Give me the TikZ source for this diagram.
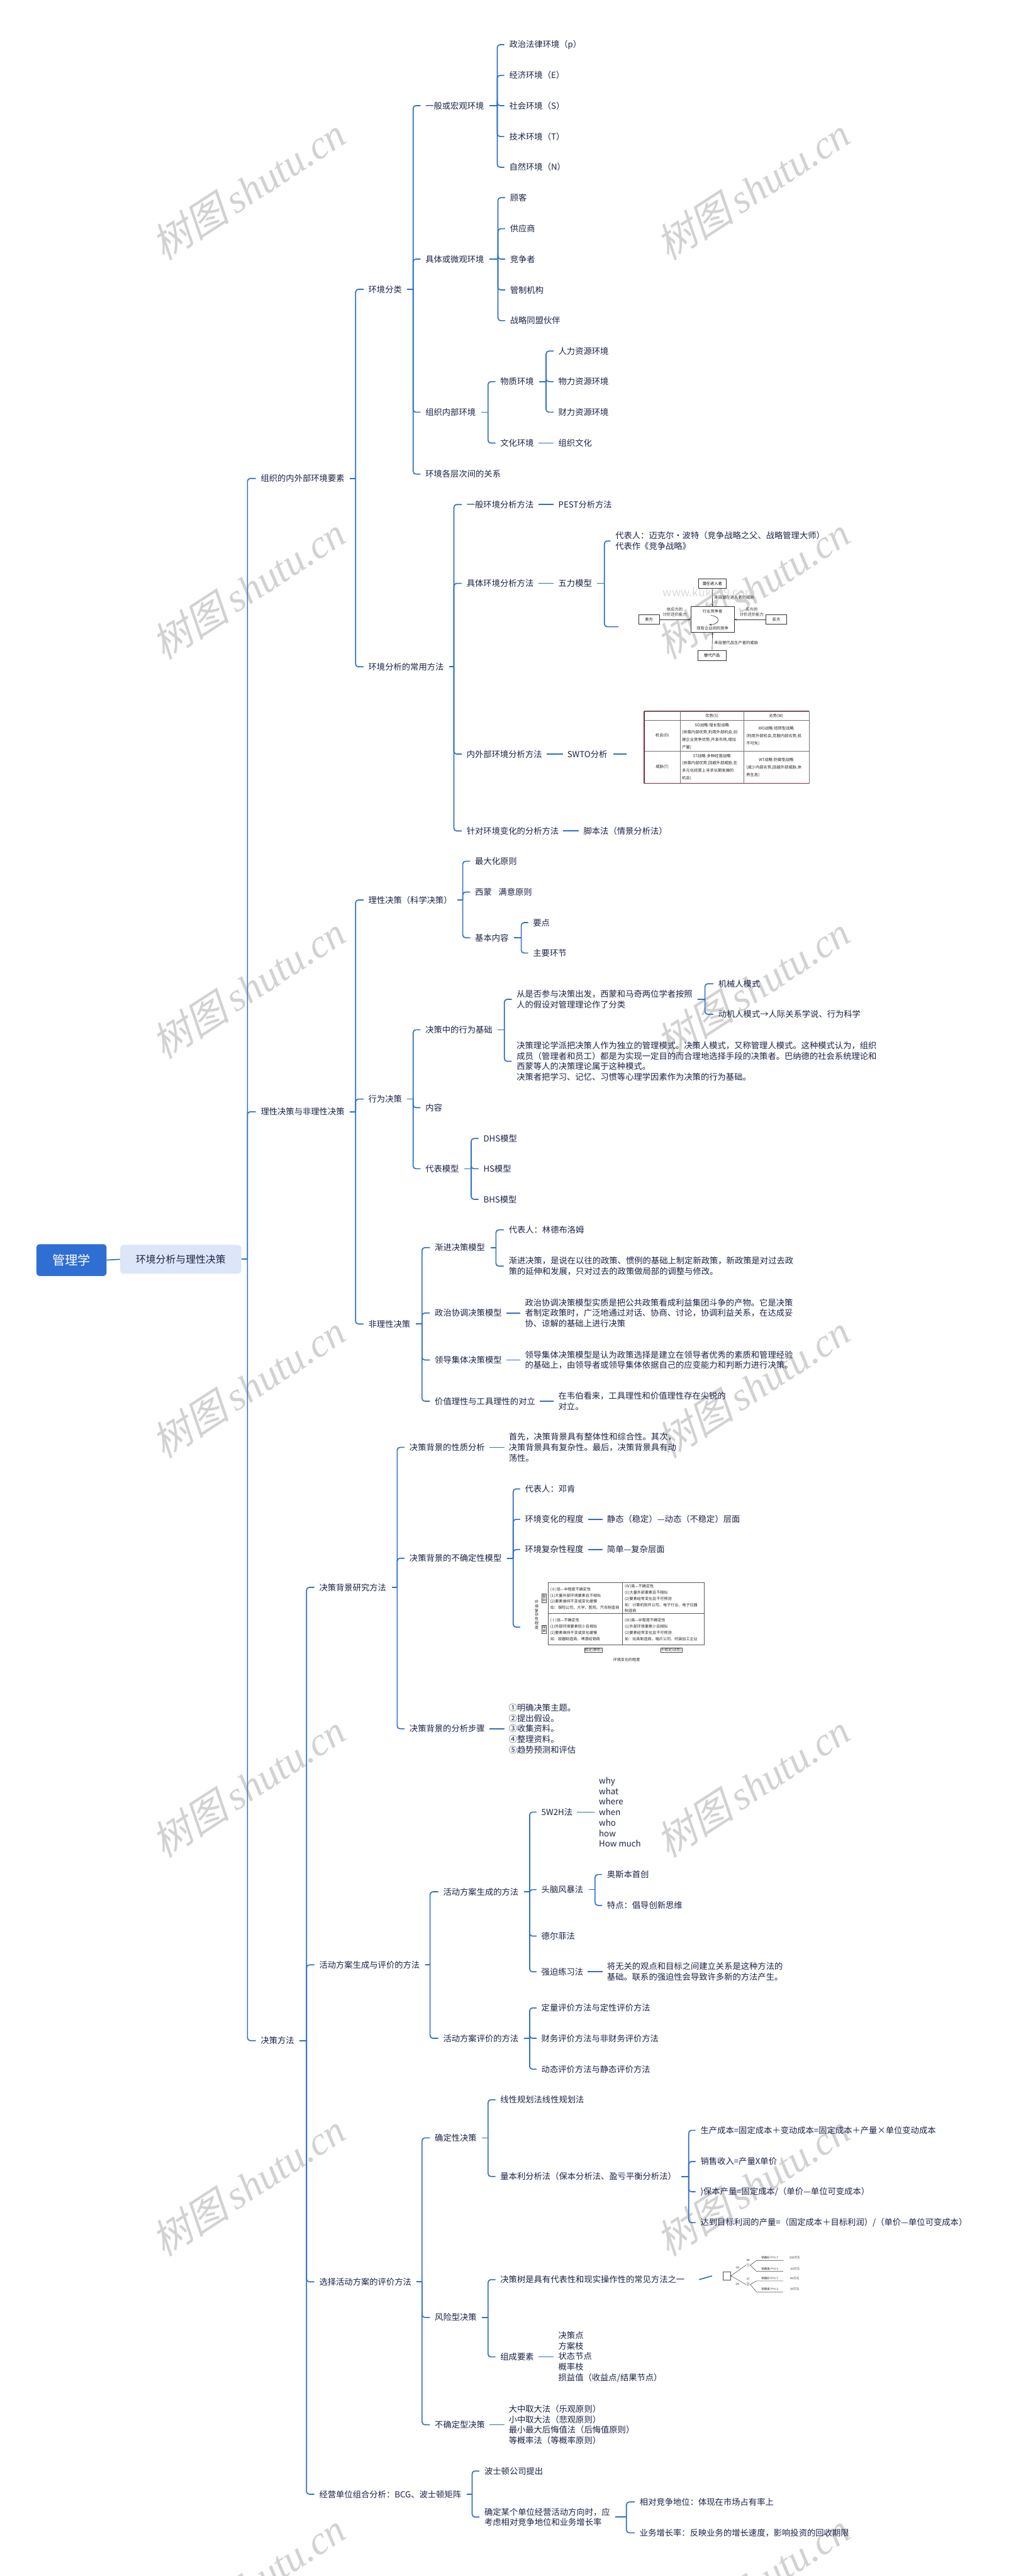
\documentclass[tikz,border=0pt]{standalone}
\usepackage{fontspec}
\setmainfont{Noto Sans CJK SC}
\newfontfamily\wmcjk[FakeSlant=0.25]{Noto Sans CJK SC}
\newfontfamily\wmlat{Liberation Serif}
\usetikzlibrary{arrows.meta}
\definecolor{lc}{HTML}{2E6FC4}
\definecolor{tc}{HTML}{1B2348}
\definecolor{rootc}{HTML}{2F6ED3}
\definecolor{l1c}{HTML}{DCE6F8}
\definecolor{wmc}{HTML}{D2D2D2}
\definecolor{swred}{HTML}{7A2B3A}
\tikzset{
  t/.style={anchor=west, inner xsep=0pt, inner ysep=1pt, text=tc, font=\fontsize{10.5}{13.2}\selectfont, align=left},
  ln/.style={draw=lc, line width=1.3pt, rounded corners=3.5pt},
  wmk/.style={rotate=33, text=wmc, inner sep=0pt},
  ffb/.style={draw=black!80, line width=0.6pt, fill=white, inner sep=0.6pt, font=\fontsize{5}{6}\selectfont},
  fft/.style={inner sep=0.3pt, text=black!85, font=\fontsize{5}{6}\selectfont, align=center},
  sw/.style={inner sep=0pt, text=black!85, font=\fontsize{5}{9.3}\selectfont},
  swc/.style={inner sep=0pt, text=black!85, font=\fontsize{5}{9.3}\selectfont, text width=75pt, align=left},
  dm/.style={anchor=west, inner sep=0pt, text=black!85, font=\fontsize{4.8}{7.75}\selectfont, align=left},
  dmb/.style={draw=black!70, line width=0.4pt, inner sep=0.6pt, text=black!85, font=\fontsize{4.5}{5}\selectfont, align=center},
  dtt/.style={inner sep=0pt, text=black!85, font=\fontsize{3.6}{4}\selectfont},
  arr/.style={-{Stealth[length=3pt,width=2.4pt]}, draw=black!80, line width=0.5pt}
}
\newcommand\fanout[3]{%
  \draw[ln] ([xshift=6.5pt]#1.east) -- (#1.east -| #2,0);
  \foreach \ch in {#3}{\draw[ln] (#1.east -| #2,0) |- ([xshift=-6pt]\ch.west);}%
}
\newcommand\link[2]{\draw[ln] ([xshift=5.5pt]#1.east) -- ([xshift=-5.5pt]#2.west);}
\begin{document}
\begin{tikzpicture}[x=2.0612pt,y=-2.0612pt]
\useasboundingbox (0,0) rectangle (621,1568);
\fill[white] (0,0) rectangle (621,1568);
% watermarks
\foreach \yy in {115,358,601,844,1087,1330,1573}{
  \node[wmk] (wl-\yy) at (151,\yy) {\fontsize{50}{50}\selectfont\wmcjk 树图\,\wmlat\itshape shutu.cn};
  \node[wmk] (wr-\yy) at (458,\yy) {\fontsize{50}{50}\selectfont\wmcjk 树图\,\wmlat\itshape shutu.cn};
}
% root
\node[fill=rootc, rounded corners=4pt, minimum width=88pt, minimum height=40pt, text=white, font=\fontsize{16}{16}\selectfont, inner sep=0pt] (root) at (43.5,767) {管理学};
\node[fill=l1c, rounded corners=4pt, minimum width=152pt, minimum height=36pt, text=tc, font=\fontsize{12.5}{12.5}\selectfont, inner sep=0pt] (L1) at (110,766.5) {环境分析与理性决策};
\draw[ln] (root.east) -- (L1.west);
% level 1
\node[t] (a1) at (158.6,291.2) {组织的内外部环境要素};
\node[t] (a2) at (158.6,676.7) {理性决策与非理性决策};
\node[t] (a3) at (158.6,1242.1) {决策方法};
\draw[ln] (L1.east) -- (L1.east -| 150.6,0);
\foreach \ch in {a1,a2,a3}{\draw[ln] (L1.east -| 150.6,0) |- ([xshift=-6pt]\ch.west);}
% ===== a1
\node[t] (b1) at (224.1,176.1) {环境分类};
\node[t] (b2) at (224.1,405.9) {环境分析的常用方法};
\fanout{a1}{216.4}{b1,b2}
\node[t] (c1) at (258.8,64.3) {一般或宏观环境};
\node[t] (c2) at (258.8,157.7) {具体或微观环境};
\node[t] (c3) at (258.8,250.9) {组织内部环境};
\node[t] (c4) at (258.8,288.6) {环境各层次间的关系};
\fanout{b1}{251.4}{c1,c2,c3,c4}
\node[t] (d1) at (309.8,27.2) {政治法律环境（p）};
\node[t] (d2) at (309.8,45.9) {经济环境（E）};
\node[t] (d3) at (309.8,64.3) {社会环境（S）};
\node[t] (d4) at (309.8,83.1) {技术环境（T）};
\node[t] (d5) at (309.8,101.8) {自然环境（N）};
\fanout{c1}{302.6}{d1,d2,d3,d4,d5}
\node[t] (e1) at (310.3,120.3) {顾客};
\node[t] (e2) at (310.3,139.2) {供应商};
\node[t] (e3) at (310.3,157.7) {竞争者};
\node[t] (e4) at (310.3,176.5) {管制机构};
\node[t] (e5) at (310.3,195.2) {战略同盟伙伴};
\fanout{c2}{303.0}{e1,e2,e3,e4,e5}
\node[t] (f1) at (304.4,232.3) {物质环境};
\node[t] (f2) at (304.4,269.7) {文化环境};
\fanout{c3}{297.0}{f1,f2}
\node[t] (g1) at (339.7,213.7) {人力资源环境};
\node[t] (g2) at (339.7,232.3) {物力资源环境};
\node[t] (g3) at (339.7,250.9) {财力资源环境};
\fanout{f1}{332.3}{g1,g2,g3}
\node[t] (g4) at (339.7,269.7) {组织文化};
\link{f2}{g4}
% analysis methods
\node[t] (h1) at (283.9,307.1) {一般环境分析方法};
\node[t] (h2) at (283.9,355.1) {具体环境分析方法};
\node[t] (h3) at (283.9,459.0) {内外部环境分析方法};
\node[t] (h4) at (283.9,505.8) {针对环境变化的分析方法};
\fanout{b2}{276.2}{h1,h2,h3,h4}
\node[t] (h1a) at (339.7,307.1) {PEST分析方法};
\link{h1}{h1a}
\node[t] (h2a) at (339.7,355.1) {五力模型};
\link{h2}{h2a}
\node[t] (h3a) at (345.1,459.0) {SWTO分析};
\link{h3}{h3a}
\node[t] (h4a) at (355.0,505.8) {脚本法（情景分析法）};
\link{h4}{h4a}
\node[t] (porter) at (374.4,329.3) {代表人：迈克尔·波特（竞争战略之父、战略管理大师）\\代表作《竞争战略》};
\node[inner sep=0pt, minimum size=0pt] (ffimg) at (379.4,381.5) {};
\fanout{h2a}{367.8}{porter,ffimg}
% five forces picture
\node[text=black!14, inner sep=0pt, font=\fontsize{14}{14}\selectfont] (kuke) at (431.5,360.6) {www.kuke99.com};
\node[ffb, minimum width=35pt, minimum height=12.5pt] (ffpe) at (433.4,355.2) {潜在进入者};
\node[ffb, minimum width=54pt, minimum height=32pt] (ffc) at (433.6,377.1) {};
\node[fft] (ffc1) at (433.6,372.2) {行业竞争者};
\node[fft] (ffc2) at (433.6,382.6) {现有企业间的竞争};
\node[ffb, minimum width=26pt, minimum height=11.5pt] (ffs) at (394.9,377.1) {卖方};
\node[ffb, minimum width=26pt, minimum height=11.5pt] (ffb2) at (472.4,377.1) {买方};
\node[ffb, minimum width=35pt, minimum height=13pt] (ffsub) at (433.3,399.0) {替代产品};
\draw[arr] (ffpe.south) -- (ffc.north);
\draw[arr] (ffs.east) -- (ffc.west);
\draw[arr] (ffb2.west) -- (ffc.east);
\draw[arr] (ffsub.north) -- (ffc.south);
\coordinate (ffca) at (432.5,374.6);
\coordinate (ffcb) at (431.5,380.3);
\draw[arr] (ffca) .. controls (438.5,375) and (438.5,380) .. (ffcb);
\node[fft, anchor=west] (ffl1) at (434.4,363.6) {来自潜在进入者的威胁};
\node[fft] (ffl2) at (410.6,372.5) {供应方的\\讨价还价能力};
\node[fft] (ffl3) at (457.4,372.5) {买方的\\讨价还价能力};
\node[fft, anchor=west] (ffl4) at (434.4,391.4) {来自替代品生产者的威胁};
% SWOT table
\node[inner sep=0pt, minimum size=0pt] (swimg) at (392,459.0) {};
\draw[ln] ([xshift=7pt]h3a.east) -- ([xshift=-22pt]swimg.west);
\draw[black!55, line width=0.4pt] (392,432.9) rectangle (492.2,476.8);
\draw[black!55, line width=0.4pt] (414,432.9) -- (414,476.8) (452.4,432.9) -- (452.4,476.8) (392,438.4) -- (492.2,438.4) (392,457.3) -- (492.2,457.3);
\draw[swred, line width=0.9pt] (392,432.9) -- (492.2,432.9) (392,476.8) -- (492.2,476.8) (392,432.9) -- (392,476.8);
\node[sw] (sws) at (433.2,435.7) {优势(S)};
\node[sw] (sww) at (472.3,435.7) {劣势(W)};
\node[sw] (swo) at (403,447.8) {机会(O)};
\node[sw] (swt) at (403,467.0) {威胁(T)};
\node[swc] (swso) at (433.2,448.2) {\makebox[75pt][c]{SO战略:增长型战略}\\(依靠内部优势,利用外部机会,创\\建企业竞争优势,开发市场,增加\\产量)};
\node[swc] (swwo) at (472.3,448.1) {\makebox[75pt][c]{WO战略:扭转型战略}\\(利用外部机会,克服内部劣势,机\\不可失)};
\node[swc] (swst) at (433.2,466.9) {\makebox[75pt][c]{ST战略:多种经营战略}\\(依靠内部优势,回避外部威胁,在\\多元化经营上寻求长期发展的\\机会)};
\node[swc] (swwt) at (472.3,467.2) {\makebox[75pt][c]{WT战略:防御型战略}\\(减少内部劣势,回避外部威胁,休\\养生息)};
% ===== a2
\node[t] (i1) at (224.1,547.8) {理性决策（科学决策）};
\node[t] (i2) at (224.1,669.0) {行为决策};
\node[t] (i3) at (224.1,805.9) {非理性决策};
\fanout{a2}{216.4}{i1,i2,i3}
\node[t] (j1) at (289.0,524.2) {最大化原则};
\node[t] (j2) at (289.0,543.0) {西蒙\hspace{0.8em}满意原则};
\node[t] (j3) at (289.0,570.8) {基本内容};
\fanout{i1}{281.6}{j1,j2,j3}
\node[t] (j3a) at (324.3,561.6) {要点};
\node[t] (j3b) at (324.3,580.1) {主要环节};
\fanout{j3}{317.2}{j3a,j3b}
\node[t] (k1) at (258.8,626.8) {决策中的行为基础};
\node[t] (k2) at (258.8,674.2) {内容};
\node[t] (k3) at (258.8,711.4) {代表模型};
\fanout{i2}{251.4}{k1,k2,k3}
\node[t] (k1a) at (314.3,608.3) {从是否参与决策出发，西蒙和马奇两位学者按照\\人的假设对管理理论作了分类};
\node[t] (k1b) at (314.3,646.0) {决策理论学派把决策人作为独立的管理模式。决策人模式，又称管理人模式。这种模式认为，组织\\成员（管理者和员工）都是为实现一定目的而合理地选择手段的决策者。巴纳德的社会系统理论和\\西蒙等人的决策理论属于这种模式。\\决策者把学习、记忆、习惯等心理学因素作为决策的行为基础。};
\fanout{k1}{306.9}{k1a,k1b}
\node[t] (k1c) at (437.0,598.8) {机械人模式};
\node[t] (k1d) at (437.0,617.4) {动机人模式→人际关系学说、行为科学};
\fanout{k1a}{429.0}{k1c,k1d}
\node[t] (k3a) at (294.1,693.0) {DHS模型};
\node[t] (k3b) at (294.1,711.4) {HS模型};
\node[t] (k3c) at (294.1,730.0) {BHS模型};
\fanout{k3}{286.7}{k3a,k3b,k3c}
\node[t] (m1) at (264.5,759.4) {渐进决策模型};
\node[t] (m2) at (264.5,799.2) {政治协调决策模型};
\node[t] (m3) at (264.5,827.8) {领导集体决策模型};
\node[t] (m4) at (264.5,852.9) {价值理性与工具理性的对立};
\fanout{i3}{256.8}{m1,m2,m3,m4}
\node[t] (m1a) at (309.5,748.6) {代表人：林德布洛姆};
\node[t] (m1b) at (309.5,770.7) {渐进决策，是说在以往的政策、惯例的基础上制定新政策，新政策是对过去政\\策的延伸和发展，只对过去的政策做局部的调整与修改。};
\fanout{m1}{301.8}{m1a,m1b}
\node[t] (m2a) at (319.4,799.2) {政治协调决策模型实质是把公共政策看成利益集团斗争的产物。它是决策\\者制定政策时，广泛地通过对话、协商、讨论，协调利益关系，在达成妥\\协、谅解的基础上进行决策};
\link{m2}{m2a}
\node[t] (m3a) at (319.4,827.8) {领导集体决策模型是认为政策选择是建立在领导者优秀的素质和管理经验\\的基础上，由领导者或领导集体依据自己的应变能力和判断力进行决策。};
\link{m3}{m3a}
\node[t] (m4a) at (339.7,852.9) {在韦伯看来，工具理性和价值理性存在尖锐的\\对立。};
\link{m4}{m4a}
% ===== a3
\node[t] (n1) at (194.2,966.2) {决策背景研究方法};
\node[t] (n2) at (194.2,1196.0) {活动方案生成与评价的方法};
\node[t] (n3) at (194.2,1388.9) {选择活动方案的评价方法};
\node[t] (n4) at (194.2,1518.2) {经营单位组合分析：BCG、波士顿矩阵};
\fanout{a3}{186.5}{n1,n2,n3,n4}
\node[t] (p1) at (249.1,881.0) {决策背景的性质分析};
\node[t] (p2) at (249.1,948.5) {决策背景的不确定性模型};
\node[t] (p3) at (249.1,1052.3) {决策背景的分析步骤};
\fanout{n1}{241.7}{p1,p2,p3}
\node[t] (p1a) at (309.5,881.0) {首先，决策背景具有整体性和综合性。其次，\\决策背景具有复杂性。最后，决策背景具有动\\荡性。};
\link{p1}{p1a}
\node[t] (p3a) at (309.5,1052.3) {①明确决策主题。\\②提出假设。\\③收集资料。\\④整理资料。\\⑤趋势预测和评估};
\link{p3}{p3a}
\node[t] (q1) at (319.4,906.3) {代表人：邓肯};
\node[t] (q2) at (319.4,924.8) {环境变化的程度};
\node[t] (q3) at (319.4,943.2) {环境复杂性程度};
\node[inner sep=0pt, minimum size=0pt] (dfimg) at (319.5,990.4) {};
\fanout{p2}{312.3}{q1,q2,q3,dfimg}
\node[t] (q2a) at (369.3,924.8) {静态（稳定）—动态（不稳定）层面};
\link{q2}{q2a}
\node[t] (q3a) at (369.3,943.2) {简单—复杂层面};
\link{q3}{q3a}
% Daft model picture
\draw[black!65, line width=0.45pt] (333.7,963.1) rectangle (428.5,1001.3);
\draw[black!65, line width=0.45pt] (378.7,963.1) -- (378.7,1001.3) (333.7,982.2) -- (428.5,982.2);
\node[dm] (dtl) at (334.8,973.0) {(Ⅱ)低—中程度不确定性\\(1)大量外部环境要素且不相似\\(2)要素维持不变或变化缓慢\\如：保险公司、大学、医院、汽车制造商};
\node[dm] (dtr) at (380.1,973.1) {(Ⅳ)高—不确定性\\(1)大量外部要素且不相似\\(2)要素经常变化且不可预测\\如：计算机软件公司、电子行业、电子仪器\\制造商};
\node[dm] (dbl) at (334.8,991.9) {(Ⅰ)低—不确定性\\(1)外部环境要素较少且相似\\(2)要素维持不变或变化缓慢\\如：容器制造商、啤酒经销商};
\node[dm] (dbr) at (380.1,991.9) {(Ⅲ)高—中程度不确定性\\(1)外部环境要素少且相似\\(2)要素经常变化且不可预测\\如：玩具制造商、唱片公司、时装加工企业};
\node[inner sep=0pt, text=black!85, font=\fontsize{4.8}{5.4}\selectfont, align=center] (dvl) at (326.6,983.0) {环\\境\\复\\杂\\性\\程\\度};
\node[dmb] (dcx) at (331.1,972.8) {复\\杂};
\node[dmb] (dsp) at (331.1,991.7) {简\\单};
\node[dmb] (dst) at (361.0,1004.3) {稳定(静态)};
\node[dmb] (dun) at (408.4,1004.3) {不稳定(动态)};
\node[inner sep=0pt, text=black!85, font=\fontsize{4.8}{5}\selectfont] (dhl) at (381.3,1010.2) {环境变化的程度};
% activities
\node[t] (r1) at (269.6,1151.5) {活动方案生成的方法};
\node[t] (r2) at (269.6,1240.7) {活动方案评价的方法};
\fanout{n2}{261.7}{r1,r2}
\node[t] (s1) at (329.4,1103.0) {5W2H法};
\node[t] (s2) at (329.4,1150.2) {头脑风暴法};
\node[t] (s3) at (329.4,1178.5) {德尔菲法};
\node[t] (s4) at (329.4,1200.2) {强迫练习法};
\fanout{r1}{322.3}{s1,s2,s3,s4}
\node[t] (s1a) at (364.4,1103.0) {why\\what\\where\\when\\who\\how\\How much};
\link{s1}{s1a}
\node[t] (s2a) at (369.3,1141.0) {奥斯本首创};
\node[t] (s2b) at (369.3,1159.8) {特点：倡导创新思维};
\fanout{s2}{362.1}{s2a,s2b}
\node[t] (s4a) at (369.3,1200.2) {将无关的观点和目标之间建立关系是这种方法的\\基础。联系的强迫性会导致许多新的方法产生。};
\link{s4}{s4a}
\node[t] (u1) at (329.4,1222.2) {定量评价方法与定性评价方法};
\node[t] (u2) at (329.4,1240.7) {财务评价方法与非财务评价方法};
\node[t] (u3) at (329.4,1259.5) {动态评价方法与静态评价方法};
\fanout{r2}{322.3}{u1,u2,u3}
% choose
\node[t] (v1) at (264.5,1301.3) {确定性决策};
\node[t] (v2) at (264.5,1410.6) {风险型决策};
\node[t] (v3) at (264.5,1475.9) {不确定型决策};
\fanout{n3}{256.8}{v1,v2,v3}
\node[t] (w1) at (304.4,1278.1) {线性规划法线性规划法};
\node[t] (w2) at (304.4,1324.8) {量本利分析法（保本分析法、盈亏平衡分析法）};
\fanout{v1}{297.0}{w1,w2}
\node[t] (x1) at (426.2,1296.7) {生产成本=固定成本＋变动成本=固定成本＋产量×单位变动成本};
\node[t] (x2) at (426.2,1315.7) {销售收入=产量X单价};
\node[t] (x3) at (426.2,1334.1) {)保本产量=固定成本/（单价—单位可变成本）};
\node[t] (x4) at (426.2,1352.9) {达到目标利润的产量=（固定成本＋目标利润）/（单价—单位可变成本）};
\fanout{w2}{419.1}{x1,x2,x3,x4}
\node[t] (y1) at (304.4,1387.6) {决策树是具有代表性和现实操作性的常见方法之一};
\node[t] (y2) at (304.4,1434.6) {组成要素};
\fanout{v2}{297.0}{y1,y2}
\node[t] (y2a) at (339.7,1434.6) {决策点\\方案枝\\状态节点\\概率枝\\损益值（收益点/结果节点）};
\link{y2}{y2a}
\node[t] (v3a) at (309.5,1475.9) {大中取大法（乐观原则）\\小中取大法（悲观原则）\\最小最大后悔值法（后悔值原则）\\等概率法（等概率原则）};
\link{v3}{v3a}
% decision tree picture
\node[draw=black!70, line width=0.45pt, minimum width=9.8pt, minimum height=9.5pt, inner sep=0pt] (dt0) at (442.3,1385.3) {};
\draw[ln] ([xshift=18pt]y1.east) -- ([xshift=-13.5pt]dt0.west);
\node[inner sep=0pt, text=black!85, font=\fontsize{5}{5}\selectfont] (dt1) at (455.2,1378.8) {①};
\node[inner sep=0pt, text=black!85, font=\fontsize{5}{5}\selectfont] (dt2) at (455.2,1390.5) {②};
\draw[black!70, line width=0.45pt] (dt0.east) -- (dt1.west) (dt0.east) -- (dt2.west);
\coordinate (dt1a) at (460.4,1375.9); \coordinate (dt1ae) at (476.5,1375.9);
\coordinate (dt1b) at (460.4,1382.6); \coordinate (dt1be) at (476.5,1382.6);
\coordinate (dt2a) at (460.4,1388.4); \coordinate (dt2ae) at (476.5,1388.4);
\coordinate (dt2b) at (460.4,1395.1); \coordinate (dt2be) at (476.5,1395.1);
\draw[black!70, line width=0.45pt] (dt1.east) -- (dt1a) -- (dt1ae) (dt1.east) -- (dt1b) -- (dt1be) (dt2.east) -- (dt2a) -- (dt2ae) (dt2.east) -- (dt2b) -- (dt2be);
\node[dtt] (dtn1) at (455.2,1375.6) {64};
\node[dtt] (dtn2) at (455.2,1387.3) {37};
\node[dtt] (dtc1) at (448.6,1380.2) {-30};
\node[dtt] (dtc2) at (448.6,1390.4) {-20};
\node[dtt] (dta1) at (468.4,1374.3) {销路好 P=0.7};
\node[dtt] (dta2) at (483.6,1374.3) {100万元};
\node[dtt] (dtb1) at (468.4,1381.0) {销路差 P=0.3};
\node[dtt] (dtb2) at (483.6,1381.0) {-20万元};
\node[dtt] (dtc3) at (468.4,1386.8) {销路好 P=0.7};
\node[dtt] (dtc4) at (483.6,1386.8) {40万元};
\node[dtt] (dtd1) at (468.4,1393.5) {销路差 P=0.3};
\node[dtt] (dtd2) at (483.6,1393.5) {30万元};
% BCG
\node[t] (z1) at (294.7,1504.1) {波士顿公司提出};
\node[t] (z2) at (294.7,1532.1) {确定某个单位经营活动方向时，应\\考虑相对竞争地位和业务增长率};
\fanout{n4}{287.3}{z1,z2}
\node[t] (z2a) at (389.2,1522.9) {相对竞争地位：体现在市场占有率上};
\node[t] (z2b) at (389.2,1541.7) {业务增长率：反映业务的增长速度，影响投资的回收期限};
\fanout{z2}{381.2}{z2a,z2b}
\end{tikzpicture}
\end{document}
